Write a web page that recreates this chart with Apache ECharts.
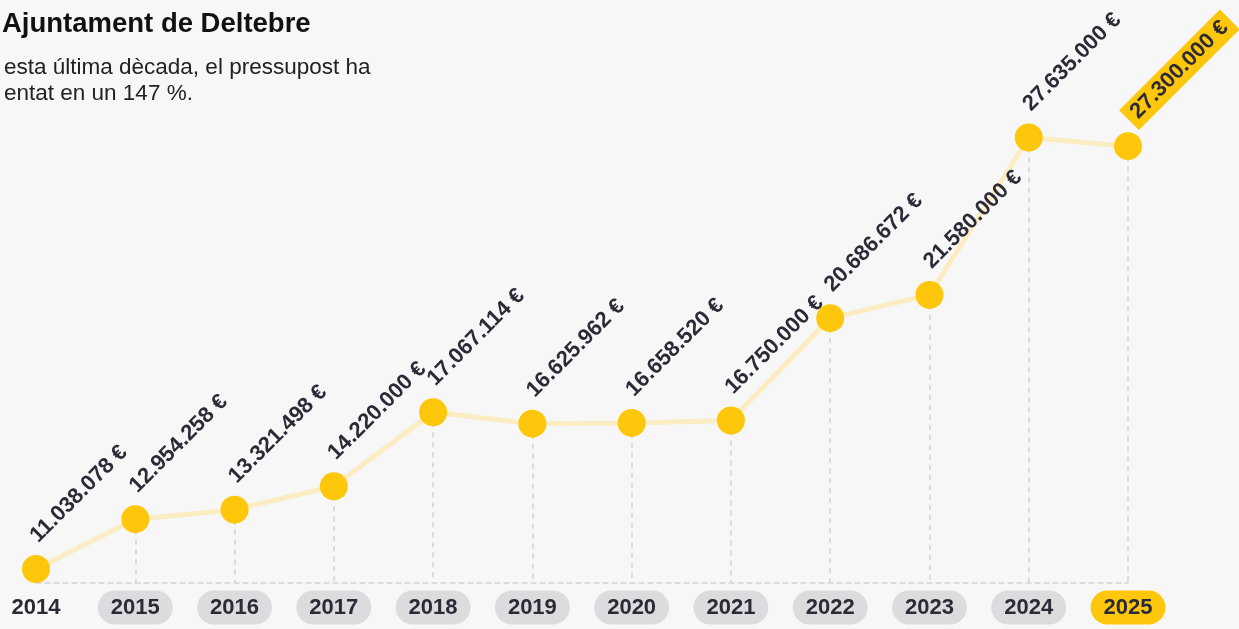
<!DOCTYPE html>
<html>
<head>
<meta charset="utf-8">
<script src="https://cdn.jsdelivr.net/npm/echarts@6/dist/echarts.min.js"></script>
<style>
html,body{margin:0;padding:0;background:#f7f7f7;}
#c{width:1239px;height:629px;}
</style>
</head>
<body>
<div id="c"></div>
<script>
const years = ['2014','2015','2016','2017','2018','2019','2020','2021','2022','2023','2024','2025'];
const budget = [11038078, 12954258, 13321498, 14220000, 17067114, 16625962, 16658520, 16750000, 20686672, 21580000, 27635000, 27300000];
const titleText = 'Ajuntament de Deltebre';
const subtitleLines = ['esta última dècada, el pressupost ha', 'entat en un 147 %.'];

const Y_MIN = 10500000, Y_MAX = 30000000;
const FONT = '"Liberation Sans", Arial, sans-serif';
const DARK = '#2a2b36';
const YELLOW = '#ffc70b';

function fmt(v){
  return String(v).replace(/\B(?=(\d{3})+(?!\d))/g, '.') + ' €';
}

const last = years.length - 1;
const pointData = budget.map((v, i) => {
  const d = { value: v };
  if (i === last) {
    d.label = {
      backgroundColor: YELLOW,
      padding: [4, 7, 2, 7],
      position: [15, -12]
    };
  }
  return d;
});

const dropLines = budget.map((v, i) => [
  { coord: [years[i], v] },
  { coord: [years[i], Y_MIN] }
]);

const chart = echarts.init(document.getElementById('c'), null, { renderer: 'canvas' });
chart.setOption({
  backgroundColor: '#f7f7f7',
  animation: false,
  textStyle: { fontFamily: FONT },
  title: [
    {
      text: titleText,
      left: -3, top: 5,
      textStyle: { fontSize: 27.5, fontWeight: 'bold', color: '#111', fontFamily: FONT }
    },
    {
      text: subtitleLines.join('\n'),
      left: -1, top: 50,
      textStyle: { fontSize: 22.5, fontWeight: 'normal', color: '#222', lineHeight: 26, fontFamily: FONT }
    }
  ],
  grid: { left: 36, right: 111, top: 76, bottom: 46, containLabel: false, outerBoundsMode: 'none' },
  xAxis: {
    type: 'category',
    data: years,
    boundaryGap: false,
    axisLine: { show: true, lineStyle: { color: '#d4d4d4', width: 1.5, type: [5, 4] } },
    axisTick: { show: false },
    splitLine: { show: false },
    axisLabel: {
      margin: 13,
      interval: 0,
      formatter: function (v, i) {
        if (i === 0) return '{n|' + v + '}';
        if (i === last) return '{y|' + v + '}';
        return '{p|' + v + '}';
      },
      rich: {
        n: { fontSize: 22, fontWeight: 'bold', color: DARK, fontFamily: FONT, padding: [6, 13, 6, 13], lineHeight: 23 },
        p: { fontSize: 22, fontWeight: 'bold', color: DARK, fontFamily: FONT, backgroundColor: '#dcdcdf', borderRadius: 17, padding: [6, 13, 6, 13], lineHeight: 23 },
        y: { fontSize: 22, fontWeight: 'bold', color: DARK, fontFamily: FONT, backgroundColor: YELLOW, borderRadius: 17, padding: [6, 13, 6, 13], lineHeight: 23 }
      }
    }
  },
  yAxis: {
    type: 'value',
    min: Y_MIN, max: Y_MAX,
    show: false,
    splitLine: { show: false }
  },
  series: [
    {
      type: 'line',
      data: budget.map(v => null),
      zlevel: 0,
      z: 1,
      silent: true,
      symbol: 'none',
      lineStyle: { opacity: 0 },
      markLine: {
        silent: true,
        symbol: 'none',
        label: { show: false },
        lineStyle: { color: '#d2d2d2', width: 1.5, type: [5, 5] },
        data: dropLines
      }
    },
    {
      type: 'line',
      data: pointData,
      zlevel: 1,
      z: 3,
      symbol: 'circle',
      symbolSize: 28,
      itemStyle: { color: YELLOW, borderWidth: 0 },
      lineStyle: { color: '#fbecc2', width: 5 },
      label: {
        show: true,
        position: [12, -16],
        rotate: 45,
        align: 'left',
        verticalAlign: 'middle',
        fontSize: 22,
        fontWeight: 'bold',
        color: DARK,
        fontFamily: FONT,
        formatter: p => fmt(p.value)
      }
    }
  ]
});
</script>
</body>
</html>
